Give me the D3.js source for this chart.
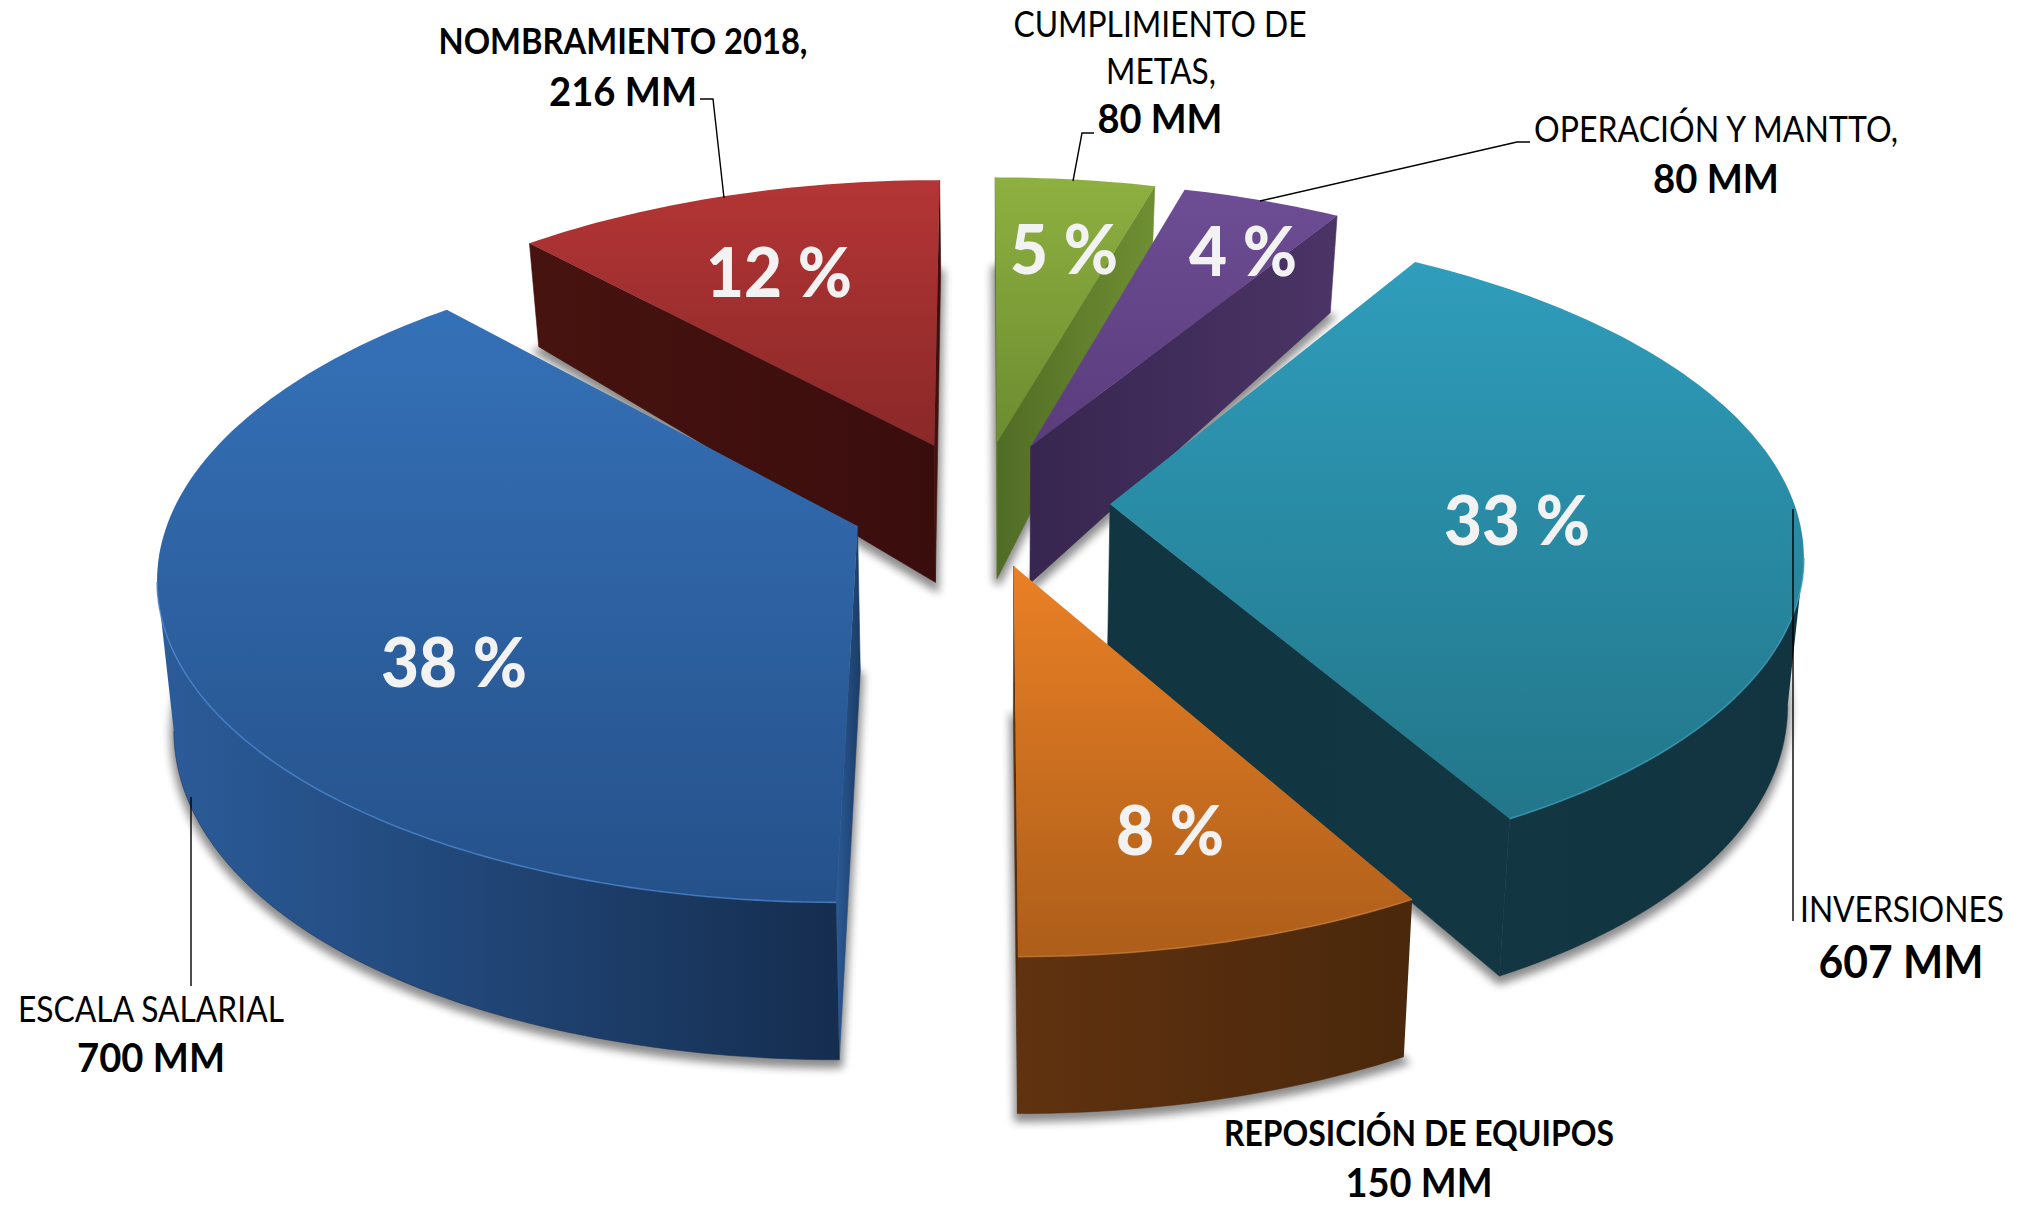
<!DOCTYPE html>
<html><head><meta charset="utf-8">
<script src="https://cdn.jsdelivr.net/npm/d3@7/dist/d3.min.js"></script>
<style>html,body{margin:0;background:#fff}svg{display:block}text{font-family:Lato,"Open Sans",sans-serif}</style>
</head><body><svg id="c" width="2024" height="1210"></svg>
<script>
// ---- data (clockwise from 12 o'clock) ----
const categories = ["CUMPLIMIENTO DE METAS","OPERACIÓN Y MANTTO","INVERSIONES","REPOSICIÓN DE EQUIPOS","ESCALA SALARIAL","NOMBRAMIENTO 2018"];
const values = [80,80,607,150,700,216];
const percentLabels = ["5 %","4 %","33 %","8 %","38 %","12 %"];
const valueLabels = ["80 MM","80 MM","607 MM","150 MM","700 MM","216 MM"];

// ---- styling and layout ----
const topColors  = [["#8eb040","#6c8c30"],["#6d4d94","#5a3c7c"],["#2f9dbc","#227689"],["#ea8025","#ad5e1a"],["#3571b8","#25518a"],["#b43535","#8a2828"]];
const wallColors = [["#4f6a24","#6f8f33"],["#36254f","#4c3566"],["#123642","#113440"],["#603210","#4a280b"],["#2b5c9a","#152d4f"],["#46130f","#3a0d0d"]];
const cutColors  = [["#516c25","#6f8f33"],["#37264f","#4b3466"],["#113541","#123642"],["#603210","#4a280b"],["#2a5a96","#1c3c66"],["#47130f","#3a0d0d"]];
const rimColors  = ["#9dbd55","#7a5ca2","#3a9fba","#c77a35","#4a86d0","#c04a4a"];
const drawOrder  = [5,0,1,4,2,3];
const labelLayout = [
 {lines:[["CUMPLIMIENTO DE",1160,37,37,0,293],["METAS,",1161,84,37,0,110],[valueLabels[0],1160,133,40,1,125]],leader:[[1073,181],[1082,133],[1094,133]]},
 {lines:[["OPERACIÓN Y MANTTO,",1716,142,37,0,364],[valueLabels[1],1716,193,40,1,126]],leader:[[1260,201],[1517,142],[1530,142]]},
 {lines:[["INVERSIONES",1902,922,37,0,204],[valueLabels[2],1901,978,46,1,165]],leader:[[1793,509],[1793,921]]},
 {lines:[["REPOSICIÓN DE EQUIPOS",1419,1146,36,1,390],[valueLabels[3],1419,1197,40,1,147]],leader:[]},
 {lines:[["ESCALA SALARIAL",151,1022,37,0,266],[valueLabels[4],151,1072,40,1,148]],leader:[[191,797],[191,986]]},
 {lines:[["NOMBRAMIENTO 2018,",623,54,36,1,369],[valueLabels[5],623,106,40,1,148]],leader:[[724,198],[713,99],[700,99]]}
];
const percentLayout = [[1064,274,68,108],[1243,276,68,108],[1517,545,68,146],[1170,855,68,108],[454,687,68,146],[779,297,68,146]];

const CX=980, CY=503, R=684, RT=317, P=0.139, EX=0.19, EY=0.2, H=157.5, HQ=14.6, VX=CX+13, XS=0.98;

const svg=d3.select("#c"), defs=svg.append("defs");
defs.append("filter").attr("id","blur").attr("x","-20%").attr("y","-20%").attr("width","140%").attr("height","140%")
  .append("feGaussianBlur").attr("stdDeviation",4.5);
const grad=(id,c,vertical)=>{const g=defs.append("linearGradient").attr("id",id)
  .attr("x1",0).attr("y1",0).attr("x2",vertical?0:1).attr("y2",vertical?1:0);
  g.append("stop").attr("offset",0).attr("stop-color",c[0]);g.append("stop").attr("offset",1).attr("stop-color",c[1]);return `url(#${id})`;};

// perspective projection of a point on the unit pie plane
const projTop=(x,y)=>{const k=1/(1-P*y);return [CX+R*x*k, CY+RT*y*k];};
const projBot=(x,y)=>{const t=projTop(x,y);return [VX+(t[0]-VX)*XS, t[1]+H-HQ*(1-y)*(1-y)];};
const line=d3.line();

const arcs=d3.pie().sort(null).value(d=>d).startAngle(0).endAngle(2*Math.PI)(values);
const slices=arcs.map((a,i)=>{
  const mid=(a.startAngle+a.endAngle)/2, ox=EX*Math.sin(mid), oy=-EY*Math.cos(mid);
  const pt=t=>[ox+Math.sin(t),oy-Math.cos(t)];
  const n=Math.max(4,Math.ceil((a.endAngle-a.startAngle)/0.02));
  const rim=d3.range(n+1).map(j=>pt(a.startAngle+(a.endAngle-a.startAngle)*j/n));
  return {i,ox,oy,pt,rim,apex:[ox,oy]};
});

// ground shadows
const shadows=svg.append("g");
slices.forEach(s=>{
  const poly=[s.apex,...s.rim].map(p=>projBot(p[0],p[1]));
  shadows.append("path").attr("d",line(poly)+"Z").attr("fill","#000").attr("opacity",.45)
    .attr("filter","url(#blur)")
    .attr("transform","translate(0,5)")
    .attr("stroke","#000").attr("stroke-width",7);
});

const quad=(a,b)=>[projTop(...a),projTop(...b),projBot(...b),projBot(...a)];
const chart=svg.append("g");
drawOrder.forEach(i=>{
  const s=slices[i], g=chart.append("g");
  const start=s.rim[0], end=s.rim[s.rim.length-1];
  const cutFill=grad("cut"+i,cutColors[i],false);
  [[s.apex,start],[end,s.apex]].forEach(([a,b])=>{
    if(projTop(...b)[0]-projTop(...a)[0]<0)
      g.append("path").attr("d",line(quad(a,b))+"Z").attr("fill",cutFill).attr("stroke",cutFill).attr("stroke-width",.6);
  });
  const wallFill=grad("wall"+i,wallColors[i],false);
  let run=[];const runs=[];
  for(let j=0;j<s.rim.length-1;j++){
    const a=s.rim[j],b=s.rim[j+1];
    if(projTop(...b)[0]-projTop(...a)[0]<0){ if(!run.length) run.push(a); run.push(b);} 
    else if(run.length){runs.push(run);run=[];}
  }
  if(run.length) runs.push(run);
  runs.forEach(r=>{
    const poly=[...r.map(p=>projTop(...p)),...r.slice().reverse().map(p=>projBot(...p))];
    g.append("path").attr("d",line(poly)+"Z").attr("fill",wallFill);
    g.append("path").attr("d",line(r.map(p=>projBot(...p)))).attr("fill","none")
      .attr("stroke",wallColors[i][1]).attr("stroke-width",1).attr("opacity",.5);
  });
  g.append("path").attr("d",line([s.apex,...s.rim].map(p=>projTop(...p)))+"Z")
    .attr("fill",grad("top"+i,topColors[i],true));
  runs.forEach(r=>g.append("path").attr("d",line(r.map(p=>projTop(...p)))).attr("fill","none")
    .attr("stroke",rimColors[i]).attr("stroke-width",1.6).attr("opacity",.75));
});

// percent labels
const pct=svg.append("g");
percentLabels.forEach((t,i)=>{
  const [x,y,fs,w]=percentLayout[i];
  pct.append("text").attr("x",x).attr("y",y).attr("text-anchor","middle").attr("font-size",fs)
    .attr("font-weight",900).attr("fill","#f2f2f2")
    .attr("textLength",w).attr("lengthAdjust","spacingAndGlyphs").text(t);
});

// leaders + category labels
const lab=svg.append("g");
labelLayout.forEach(l=>{
  if(l.leader.length) lab.append("path").attr("d",line(l.leader)).attr("fill","none")
      .attr("stroke","#000").attr("stroke-width",1.4);
  l.lines.forEach(([t,x,y,fs,b,w])=>{
    lab.append("text").attr("x",x).attr("y",y).attr("text-anchor","middle").attr("font-size",fs)
      .attr("font-weight",b?700:400).attr("fill","#000")
      .attr("textLength",w).attr("lengthAdjust","spacingAndGlyphs").text(t);
  });
});
</script></body></html>
